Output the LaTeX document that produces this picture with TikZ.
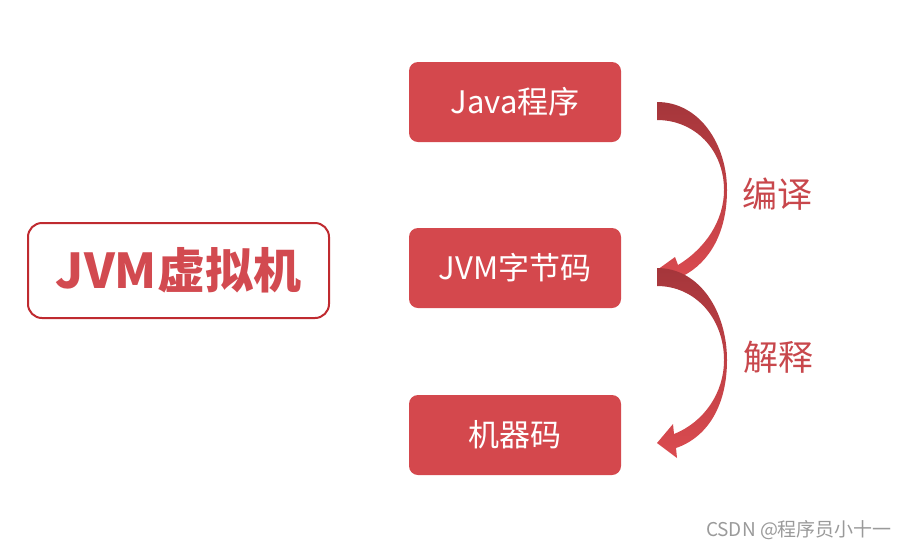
\documentclass[tikz,border=0pt]{standalone}
\usepackage{fontspec}
\setmainfont{Noto Sans CJK SC}
\definecolor{boxred}{HTML}{D4484D}
\definecolor{framered}{HTML}{BF2A2F}
\definecolor{textred}{HTML}{D24A50}
\definecolor{labelred}{HTML}{C8474C}
\definecolor{arrdark}{HTML}{A5363B}
\definecolor{arrlight}{HTML}{DB4B50}
\definecolor{wmgray}{HTML}{9A9A9A}
\tikzset{
  stepbox/.style={fill=boxred, rounded corners=9pt, minimum width=212pt, minimum height=80pt,
    text=white, font=\fontsize{31}{31}\selectfont, inner sep=0pt},
  framebox/.style={draw=framered, line width=2pt, rounded corners=14pt, minimum width=301pt,
    minimum height=95pt, text=textred, font=\fontsize{48}{48}\selectfont\bfseries, inner sep=0pt},
  steplabel/.style={text=labelred, font=\fontsize{35}{35}\selectfont, inner sep=0pt},
  ribbon/.style={top color=arrdark, bottom color=arrlight, draw=none}
}
\begin{document}
\begin{tikzpicture}[x=1pt,y=-1pt]
\useasboundingbox (0,0) rectangle (909,550);
\node[framebox] (jvm) at (178.5,270.5) {JVM虚拟机};
\node[stepbox] (java) at (515,102) {Java程序};
\node[stepbox] (bytecode) at (515,268) {JVM字节码};
\node[stepbox] (machine) at (515,435) {机器码};
\node[steplabel] (compile) at (777,194) {编译};
\node[steplabel] (interpret) at (778,357) {解释};
\node[text=wmgray, font=\fontsize{19}{19}\selectfont, inner sep=0pt] (wm) at (799,530) {CSDN @程序员小十一};
% arrow 1: compile
\shade[ribbon] (657,102) .. controls (700,102) and (727,145) .. (727,190)
  .. controls (727,232) and (710,262) .. (683,276)
  -- (686,283) -- (657,270) -- (675,257) -- (678,265)
  .. controls (706,248) and (724,220) .. (724,190)
  .. controls (724,150) and (695,120) .. (657,120) -- cycle;
% arrow 2: interpret
\shade[ribbon] (657,268) .. controls (700,268) and (727,312) .. (727,360)
  .. controls (727,405) and (708,437) .. (676,448)
  -- (677,458) -- (657,443) -- (673,424) -- (674,434)
  .. controls (704,422) and (724,393) .. (724,360)
  .. controls (724,318) and (695,286) .. (657,286) -- cycle;
\end{tikzpicture}
\end{document}
